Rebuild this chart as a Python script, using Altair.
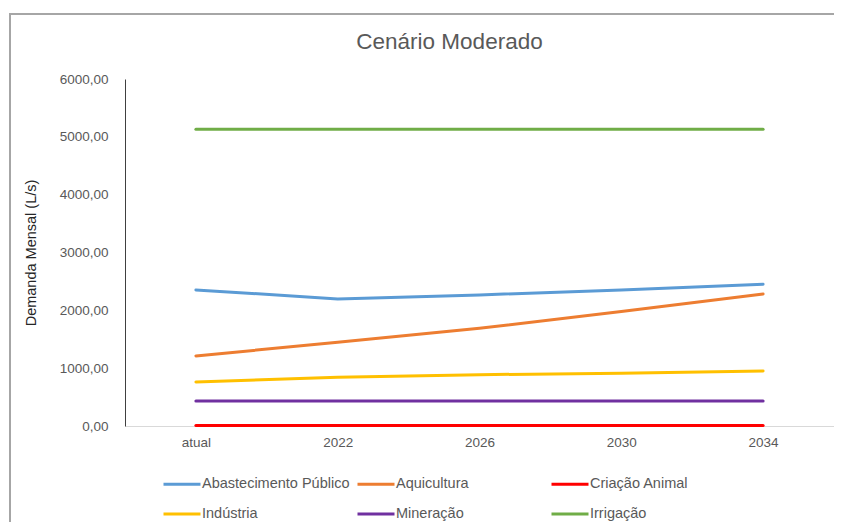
import altair as alt
import pandas as pd

periodos = ["atual", "2022", "2026", "2030", "2034"]
setores = ["Abastecimento Público", "Aquicultura", "Criação Animal",
           "Indústria", "Mineração", "Irrigação"]
abastecimento = [2353, 2197, 2266, 2353, 2450]
aquicultura = [1211, 1448, 1690, 1978, 2284]
criacao = [8, 8, 8, 8, 8]
industria = [761, 842, 888, 911, 951]
mineracao = [432, 432, 432, 432, 432]
irrigacao = [5130, 5130, 5130, 5130, 5130]
cores = {"Abastecimento Público": "#5B9BD5", "Aquicultura": "#ED7D31",
         "Criação Animal": "#FF0000", "Indústria": "#FFC000",
         "Mineração": "#7030A0", "Irrigação": "#70AD47"}
y_ticks = [0, 1000, 2000, 3000, 4000, 5000, 6000]

series = [abastecimento, aquicultura, criacao, industria, mineracao, irrigacao]
rows = []
for nome, vals in zip(setores, series):
    for p, v in zip(periodos, vals):
        rows.append({"periodo": p, "setor": nome, "valor": v})
df = pd.DataFrame(rows)

# legend fills column by column: order so rows read like the reference
ordem_legenda = [setores[0], setores[3], setores[1], setores[4], setores[2], setores[5]]

FONT = "Liberation Sans"
GRAY = "#595959"

linhas = alt.Chart(df).mark_line(strokeWidth=3, strokeCap="round").encode(
    x=alt.X("periodo:N", sort=periodos, title=None,
            scale=alt.Scale(type="point", padding=0.5),
            axis=alt.Axis(labelAngle=0, ticks=False, domainColor="#d9d9d9",
                          labelPadding=9, labelFontSize=13.5, labelColor=GRAY,
                          labelFont=FONT, grid=False)),
    y=alt.Y("valor:Q", title="Demanda Mensal (L/s)",
            scale=alt.Scale(domain=[0, 6000], nice=False),
            axis=alt.Axis(values=y_ticks, ticks=False, grid=False,
                          domainColor="#404040",
                          labelExpr="replace(format(datum.value, '.2f'), '.', ',')",
                          labelPadding=17, labelFontSize=13.5, labelColor=GRAY,
                          labelFont=FONT, titleFont=FONT, titleFontSize=14.5,
                          titleFontWeight="normal", titleColor="#262626",
                          titlePadding=21)),
    color=alt.Color("setor:N",
                    scale=alt.Scale(domain=ordem_legenda,
                                    range=[cores[s] for s in ordem_legenda]),
                    legend=alt.Legend(title=None, orient="none", legendX=37,
                                      legendY=385, columns=3, gridAlign="all",
                                      columnPadding=1, rowPadding=3,
                                      symbolType="stroke", symbolSize=1369,
                                      symbolStrokeWidth=3, labelOffset=0,
                                      labelFontSize=14.5, labelColor=GRAY,
                                      labelFont=FONT, labelLimit=300)),
)

borda = alt.Chart(alt.Data(values=[{"a": 1}])).mark_rect(
    fill=None, stroke="#a6a6a6", strokeWidth=2
).encode(
    x=alt.value(-115), x2=alt.value(760), y=alt.value(-65), y2=alt.value(480)
)

chart = alt.layer(borda, linhas).properties(
    width=709, height=347,
    autosize="none",
    padding={"left": 117, "top": 71, "right": 0, "bottom": 96},
    title=alt.TitleParams("Cenário Moderado", font=FONT, fontSize=22.5,
                          fontWeight="normal", color=GRAY, anchor="middle",
                          baseline="alphabetic", dx=-30, offset=-58),
).configure_view(stroke=None)

chart.save("out.html", embed_options={"renderer": "svg", "actions": False})
